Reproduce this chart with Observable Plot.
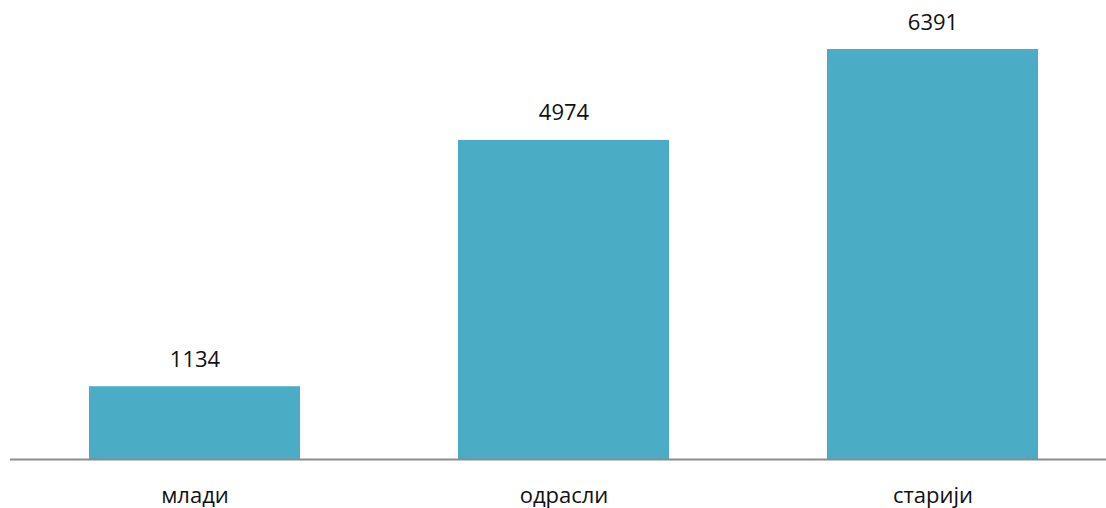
<!DOCTYPE html>
<html>
<head>
<meta charset="utf-8">
<script src="https://cdn.jsdelivr.net/npm/d3@7"></script>
<script src="https://cdn.jsdelivr.net/npm/@observablehq/plot@0.6"></script>
<style>
  html, body { margin: 0; padding: 0; background: #fff; }
  #chart svg { display: block; }
</style>
</head>
<body>
<div id="chart"></div>
<script>
const categories = ["млади", "одрасли", "старији"];
const values = [1134, 4974, 6391];

const data = categories.map((c, i) => ({category: c, value: values[i]}));

const chart = Plot.plot({
  width: 1106,
  height: 508,
  marginLeft: 10,
  marginRight: 0,
  marginTop: 0,
  marginBottom: 49,
  style: {fontFamily: "'Open Sans', sans-serif", background: "#fff", color: "#111", overflow: "visible"},
  x: {domain: categories, range: [15, 1112], paddingInner: 0.428, paddingOuter: 0.2, label: null},
  y: {domain: [0, 6391], range: [459, 49], axis: null},
  marks: [
    Plot.barY(data, {x: "category", y: "value", fill: "#4BACC6"}),
    Plot.text(data, {x: "category", y: "value", text: d => String(d.value), dy: -27, fontSize: 22, fill: "#111"}),
    Plot.ruleY([0], {stroke: "#8c8c8c", strokeWidth: 2}),
    Plot.axisX({tickSize: 0, tickPadding: 28, fontSize: 22, label: null, fill: "#111"})
  ]
});
document.getElementById("chart").appendChild(chart);
</script>
</body>
</html>
